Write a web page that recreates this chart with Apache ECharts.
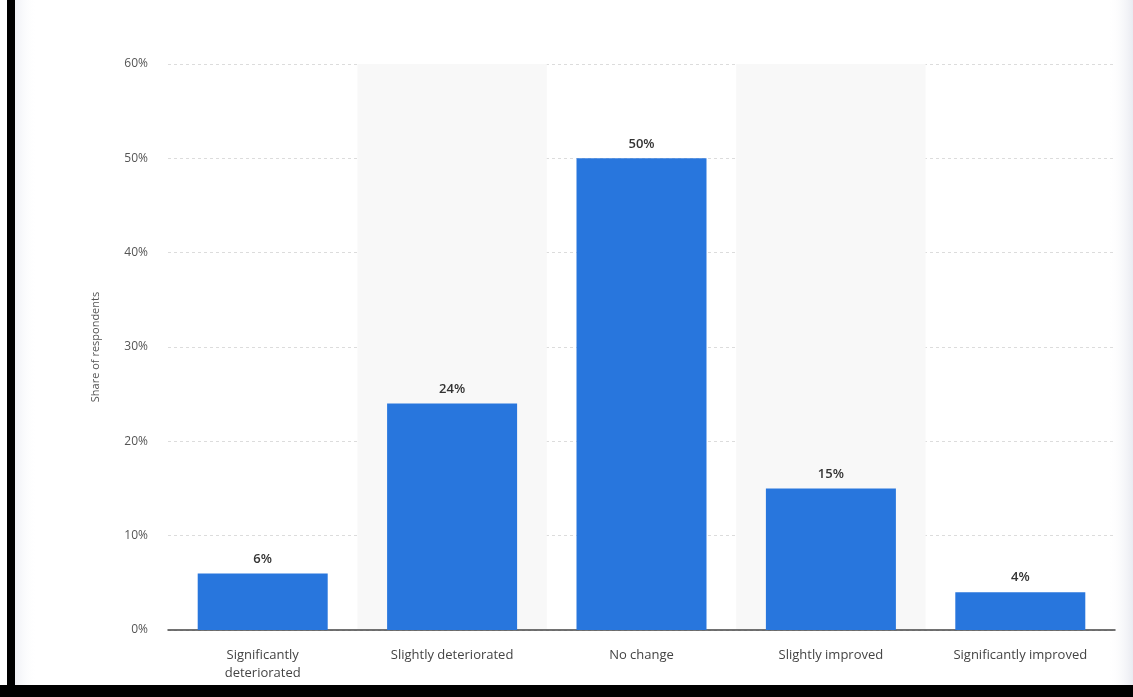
<!DOCTYPE html>
<html><head><meta charset="utf-8">
<script src="https://cdn.jsdelivr.net/npm/echarts@6/dist/echarts.min.js"></script>
<style>html,body{margin:0;padding:0;background:#fff}#c{width:1133px;height:697px}</style>
</head><body><div id="c"></div>
<script>
const categories = ['Significantly\ndeteriorated', 'Slightly deteriorated', 'No change', 'Slightly improved', 'Significantly improved'];
const shares = [6, 24, 50, 15, 4];
const yTicks = [0, 10, 20, 30, 40, 50, 60];

const chart = echarts.init(document.getElementById('c'));
chart.setOption({
  animation: false,
  backgroundColor: '#fff',
  graphic: [
    {type:'rect', shape:{x:7,y:0,width:8,height:697}, style:{fill:'#000'}, z:100},
    {type:'rect', shape:{x:0,y:685,width:1133,height:12}, style:{fill:'#000'}, z:100},
    {type:'rect', shape:{x:15,y:0,width:22,height:685}, style:{fill:new echarts.graphic.LinearGradient(0,0,1,0,[{offset:0,color:'rgba(230,232,240,0.6)'},{offset:1,color:'rgba(255,255,255,0)'}])}, z:-1},
    {type:'rect', shape:{x:1108,y:0,width:25,height:685}, style:{fill:new echarts.graphic.LinearGradient(0,0,1,0,[{offset:0,color:'rgba(255,255,255,0)'},{offset:1,color:'rgba(228,230,238,0.8)'}])}, z:-1}
  ],
  grid: {left: 168, right: 18, top: 64, bottom: 67},
  xAxis: {
    type: 'category',
    data: categories,
    axisLine: {lineStyle: {color: '#444', width: 1.5}},
    axisTick: {show: false},
    axisLabel: {color: '#444', fontSize: 13, fontFamily: 'Open Sans', margin: 16, lineHeight: 18, interval: 0},
    splitArea: {show: true, areaStyle: {color: ['rgba(255,255,255,0)', '#f8f8f8']}}
  },
  yAxis: {
    type: 'value',
    min: 0, max: 60, interval: 10,
    name: 'Share of respondents',
    nameLocation: 'middle',
    nameGap: 67,
    nameTextStyle: {color: '#555', fontSize: 11, fontFamily: 'Open Sans'},
    axisLabel: {color: '#555', fontSize: 12, fontFamily: 'Open Sans', margin: 20, formatter: v => yTicks.includes(v) ? v + '%' : ''},
    axisLine: {show: false},
    axisTick: {show: false},
    splitLine: {lineStyle: {color: '#dcdcdc', type: [3, 3]}}
  },
  series: [{
    type: 'bar',
    data: shares,
    barWidth: 130,
    itemStyle: {color: '#2876dd'},
    label: {show: true, position: 'top', formatter: '{c}%', color: '#333', fontSize: 13, fontFamily: 'Open Sans', fontWeight: 600, distance: 8}
  }]
});
</script></body></html>
